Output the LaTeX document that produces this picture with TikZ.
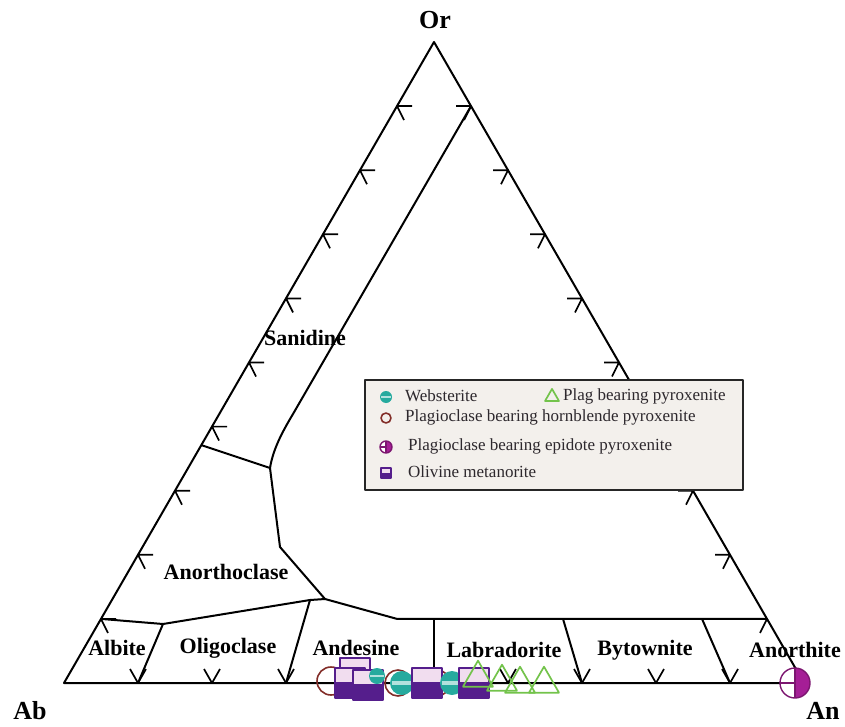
\documentclass[tikz,border=0pt]{standalone}
\usepackage{fontspec}
\setmainfont{Liberation Serif}
\definecolor{tealc}{RGB}{38,170,158}
\definecolor{brownc}{RGB}{130,45,40}
\definecolor{magc}{RGB}{165,30,150}
\definecolor{purpc}{RGB}{85,30,140}
\definecolor{grnc}{RGB}{115,195,75}
\definecolor{legbg}{RGB}{243,240,236}
\definecolor{legtxt}{RGB}{45,40,45}
\begin{document}
\begin{tikzpicture}[x=1pt,y=-1pt,line join=round,
  bd/.style={line width=2pt,black},
  tk/.style={line width=1.7pt,black},
  lab/.style={font=\fontsize{22}{24}\selectfont\bfseries,inner sep=0pt},
  corner/.style={font=\fontsize{26}{28}\selectfont\bfseries,inner sep=0pt},
  legt/.style={font=\fontsize{17}{19}\selectfont,text=legtxt,anchor=west,inner sep=0pt},
  webst/.pic={\fill[tealc] (0,0) circle (1); \fill[white!65!tealc] (-0.85,-0.13) rectangle (0.85,0.13);},
  hornb/.pic={\draw[brownc,line width=1.6pt] (0,0) circle (1);},
  epid/.pic={\fill[white] (0,0) circle (1); \fill[magc] (0,-1) arc (-90:90:1) -- cycle;
             \draw[magc!75!black,line width=1.4pt] (0,0) circle (1);
             \draw[magc!75!black,line width=1.1pt] (0,-1) -- (0,1) (-1,0) -- (0,0);},
  olmet/.pic={\fill[white!85!magc] (-1,-1) rectangle (1,1); \fill[purpc] (-1,-0.1) rectangle (1,1);
              \draw[purpc,line width=1.6pt] (-1,-1) rectangle (1,1);},
  plagp/.pic={\draw[grnc,line width=1.7pt] (-1,0.577) -- (1,0.577) -- (0,-1.155) -- cycle;}
]
\useasboundingbox (0,0) rectangle (845,727);
% corners
\coordinate (Or) at (434,42);
\coordinate (Ab) at (64,683);
\coordinate (An) at (804,683);
\draw[bd] (Or) -- (Ab) -- (An) -- cycle;
% ticks
\foreach \k in {1,...,9}{
  \pgfmathsetmacro\ly{683-64.1*\k}
  \pgfmathsetmacro\lx{64+37*\k}
  \pgfmathsetmacro\rx{804-37*\k}
  \pgfmathsetmacro\bx{64+74*\k}
  \draw[tk] (\lx+15,\ly) -- (\lx,\ly) -- (\lx+7,\ly+14);
  \draw[tk] (\rx-15,\ly) -- (\rx,\ly) -- (\rx-7,\ly+14);
  \draw[tk] (\bx-8,669) -- (\bx,683) -- (\bx+8,669);
}
% field boundaries
\coordinate (s1) at (471,106.1);
\coordinate (s2) at (293,414);
\coordinate (j1) at (270,468);
\coordinate (l6) at (201,445);
\coordinate (j2) at (280,547);
\coordinate (j3) at (325,599);
\coordinate (j4) at (397,618.9);
\coordinate (r9) at (767,618.9);
\coordinate (l9) at (101,618.9);
\coordinate (a1) at (163,624);
\coordinate (a2) at (310,600);
\coordinate (c5) at (434,618.9);
\coordinate (c7) at (563,618.9);
\coordinate (c9) at (702,618.9);
\coordinate (b1) at (138,683);
\coordinate (b3) at (286,683);
\coordinate (b5) at (434,683);
\coordinate (b7) at (582,683);
\coordinate (b9) at (730,683);
\draw[bd] (s1) -- (s2) .. controls (281,434) and (273,450) .. (j1);
\draw[bd] (l6) -- (j1) -- (j2) -- (j3) -- (j4) -- (r9);
\draw[bd] (l9) -- (a1) -- (a2) -- (j3);
\draw[bd] (a1) -- (b1);
\draw[bd] (a2) -- (b3);
\draw[bd] (c5) -- (b5);
\draw[bd] (c7) -- (b7);
\draw[bd] (c9) -- (b9);
% labels
\node[corner] (lOr) at (435,20) {Or};
\node[corner] (lAb) at (30,711) {Ab};
\node[corner] (lAn) at (823,711) {An};
\node[lab] (san) at (305,338) {Sanidine};
\node[lab] (ano) at (226,572) {Anorthoclase};
\node[lab] (alb) at (117,648) {Albite};
\node[lab] (oli) at (228,648) {Oligoclase};
\node[lab] (and) at (356,648) {Andesine};
\node[lab] (lab) at (504,650) {Labradorite};
\node[lab] (byt) at (645,650) {Bytownite};
\node[lab] (anr) at (795,650) {Anorthite};
% legend
\draw[line width=1.9pt,draw=black!85,fill=legbg] (365,380) rectangle (743,490);
\pic[scale=6] at (386,397) {webst};
\node[legt] (t1) at (405,396) {Websterite};
\pic[scale=7] at (552,397) {plagp};
\node[legt] (t2) at (563,396) {Plag bearing pyroxenite};
\pic[scale=5] at (386,418) {hornb};
\node[legt] (t3) at (405,417) {Plagioclase bearing hornblende pyroxenite};
\pic[scale=6] at (386,447) {epid};
\node[legt] (t4) at (408,446) {Plagioclase bearing epidote pyroxenite};
\pic[scale=5] at (386,473) {olmet};
\node[legt] (t5) at (408,472) {Olivine metanorite};
% data points
\pic[scale=14] at (331,681) {hornb};
\pic[scale=13] at (398,683) {hornb};
\pic[scale=13] at (437,683) {hornb};
\pic[scale=12] at (402,683) {webst};
\pic[scale=15] at (355,673) {olmet};
\pic[scale=15] at (350,683) {olmet};
\pic[scale=15] at (368,685) {olmet};
\pic[scale=8] at (377,676) {webst};
\pic[scale=15] at (427,683) {olmet};
\pic[scale=12] at (452,683) {webst};
\pic[scale=15] at (474,683) {olmet};
\pic[scale=15] at (478,678) {plagp};
\pic[scale=15] at (502,682) {plagp};
\pic[scale=15] at (520,684) {plagp};
\pic[scale=15] at (544,684) {plagp};
\pic[scale=15] at (795,683) {epid};
\end{tikzpicture}
\end{document}
